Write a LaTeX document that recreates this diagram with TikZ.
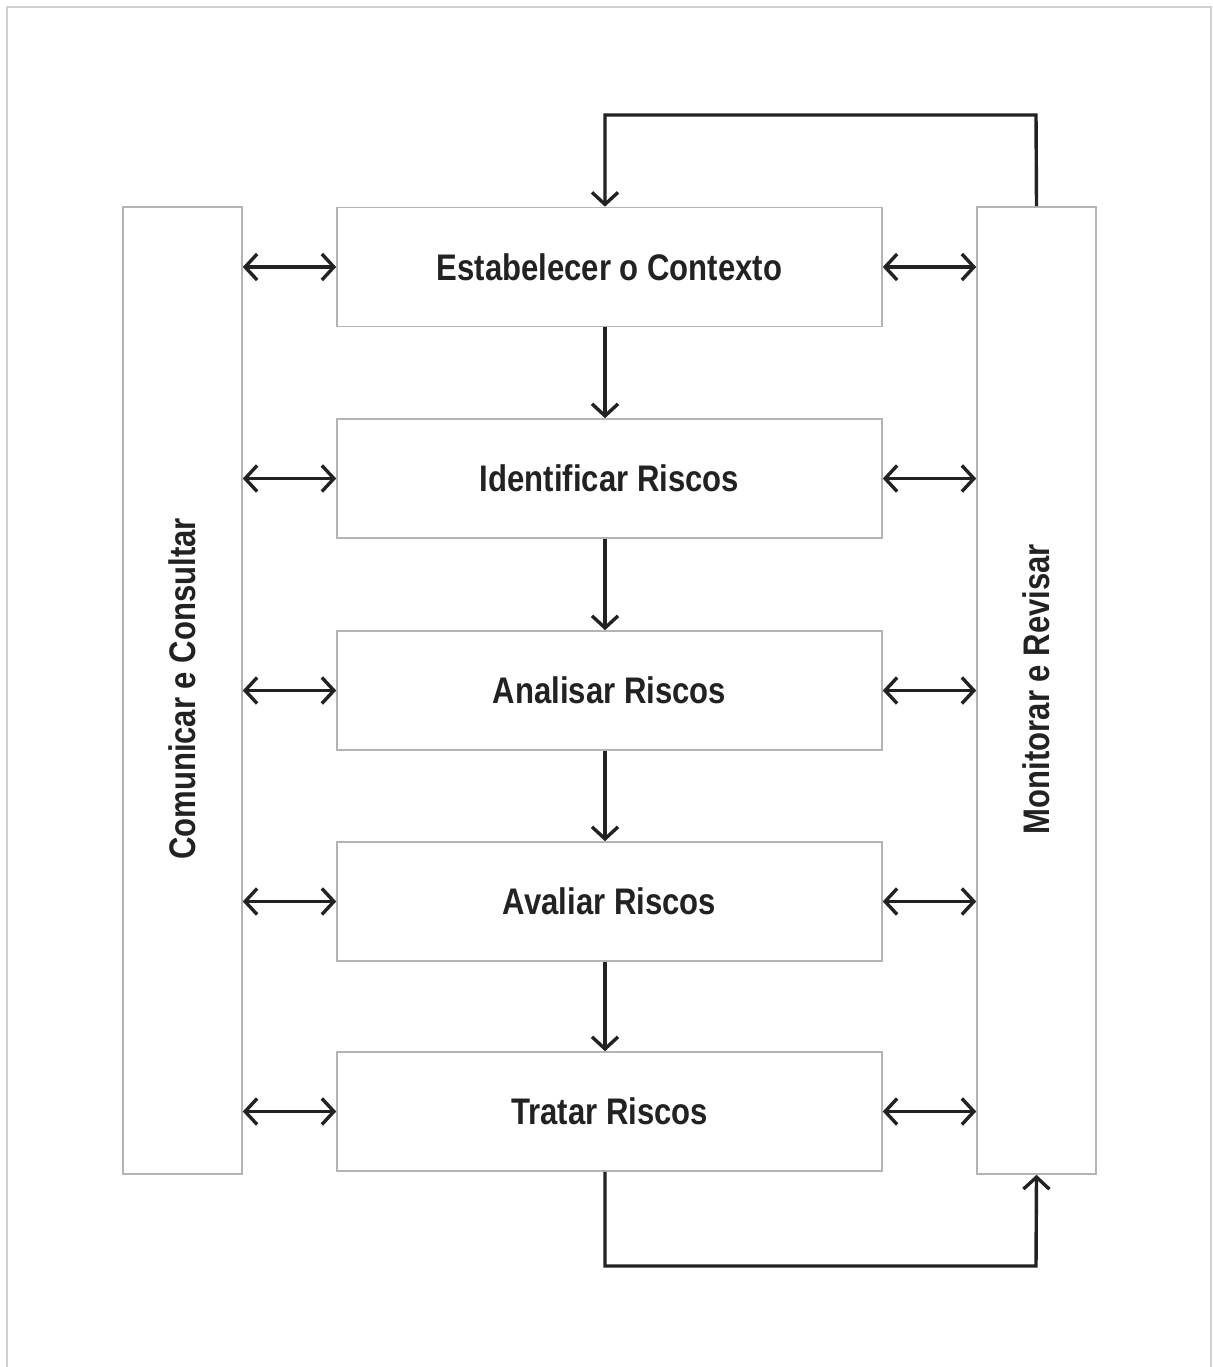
\documentclass[tikz,border=0pt]{standalone}
\usepackage{fontspec}
\setmainfont{Liberation Sans}[FakeStretch=0.84]
\usetikzlibrary{arrows.meta}
\definecolor{boxgray}{HTML}{B4B4B4}
\definecolor{framegray}{HTML}{D0D0D0}
\definecolor{ink}{HTML}{222222}
\tikzset{
  stage/.style={draw=boxgray, line width=1.6pt, minimum width=545pt, minimum height=119pt, inner sep=0pt, font=\fontsize{37}{42}\selectfont\bfseries, text=ink},
  side/.style={draw=boxgray, line width=1.6pt, minimum width=119pt, minimum height=967pt, inner sep=0pt},
  sidelabel/.style={font=\fontsize{37}{42}\selectfont\bfseries, text=ink, rotate=90},
  conn/.style={draw=ink, line width=3.4pt, -{Straight Barb[length=12pt, width=26pt, line width=3.4pt]}},
  biconn/.style={draw=ink, line width=3.4pt, {Straight Barb[length=12pt, width=26pt, line width=3.4pt]}-{Straight Barb[length=12pt, width=26pt, line width=3.4pt]}},
  loop/.style={draw=ink, line width=3.4pt}
}
\begin{document}
\begin{tikzpicture}[x=1pt, y=-1pt]
\useasboundingbox (0,0) rectangle (1212,1367);
\draw[framegray, line width=2pt] (7,1367) -- (7,7) -- (1211,7) -- (1211,1367);

\node[side] (cc) at (182.5,690.5) {};
\node[sidelabel] (ccl) at (182.5,689) {Comunicar e Consultar};
\node[side] (mr) at (1036.5,690.5) {};
\node[sidelabel] (mrl) at (1036.5,689) {Monitorar e Revisar};

\node[stage] (s1) at (609.5,267) {Estabelecer o Contexto};
\node[stage] (s2) at (609.5,478.5) {Identificar Riscos};
\node[stage] (s3) at (609.5,690.5) {Analisar Riscos};
\node[stage] (s4) at (609.5,901.5) {Avaliar Riscos};
\node[stage] (s5) at (609.5,1111.5) {Tratar Riscos};

\foreach \s in {s1,s2,s3,s4,s5}{
  \draw[biconn] (\s.west -| cc.east) -- (\s.west);
  \draw[biconn] (\s.east) -- (\s.east -| mr.west);
}
\draw[conn] (s1.south -| 605,0) -- (s2.north -| 605,0);
\draw[conn] (s2.south -| 605,0) -- (s3.north -| 605,0);
\draw[conn] (s3.south -| 605,0) -- (s4.north -| 605,0);
\draw[conn] (s4.south -| 605,0) -- (s5.north -| 605,0);

\coordinate (t1) at (1036,115);
\coordinate (t2) at (605,115);
\draw[conn] (mr.north) -- (t1) -- (t2) -- (s1.north -| t2);
\coordinate (b1) at (605,1266);
\coordinate (b2) at (1036,1266);
\draw[conn] (s5.south -| b1) -- (b1) -- (b2) -- (mr.south);
\end{tikzpicture}
\end{document}
